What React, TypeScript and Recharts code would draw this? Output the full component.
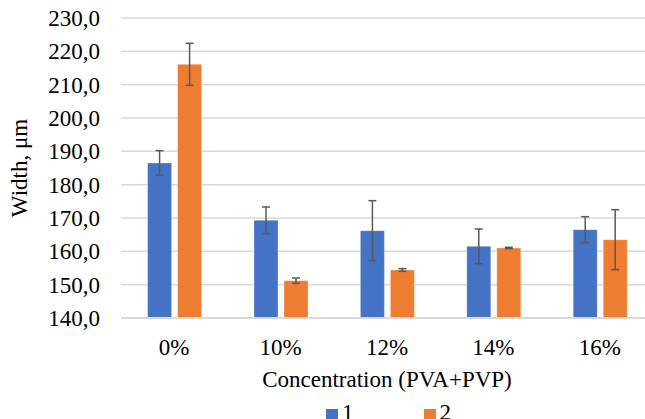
import React from "react";
import { BarChart, Bar, XAxis, YAxis, CartesianGrid, Legend, ErrorBar } from "recharts";

const categories = ["0%", "10%", "12%", "14%", "16%"];
const series1 = [186.5, 169.3, 166.2, 161.5, 166.5];
const series2 = [216.1, 151.2, 154.4, 161.0, 163.5];
const err1 = [3.7, 4.0, 9.0, 5.2, 3.9];
const err2 = [6.3, 0.8, 0.4, 0.2, 9.0];
const yTicks = [140, 150, 160, 170, 180, 190, 200, 210, 220, 230];

const data = categories.map((c, i) => ({
  name: c,
  s1: series1[i],
  s2: series2[i],
  e1: err1[i],
  e2: err2[i],
}));

const font = '"Liberation Serif", "Times New Roman", serif';
const fmt = (v: number) => v.toFixed(1).replace(".", ",");

export default function App() {
  return (
    <div style={{ position: "fixed", left: 0, top: 0, width: 645, height: 419, overflow: "hidden", background: "#fff", fontFamily: font }}>
      <style>{`svg text, svg tspan { font-family: "Liberation Serif", "Times New Roman", serif; }`}</style>
      <BarChart
        width={661}
        height={440}
        data={data}
        margin={{ top: 18, right: 8, left: 0, bottom: 48 }}
        barCategoryGap="25%"
        barGap={6}
      >
        <CartesianGrid vertical={false} stroke="#d9d9d9" strokeWidth={1.5} />
        <XAxis
          dataKey="name"
          height={74}
          tickLine={false}
          tickSize={0}
          tickMargin={21}
          axisLine={{ stroke: "#d9d9d9", strokeWidth: 2 }}
          tick={{ fill: "#000", fontSize: 23, fontFamily: font }}
          label={{ value: "Concentration (PVA+PVP)", position: "insideBottom", offset: 5, fill: "#000", fontSize: 23, fontFamily: font }}
        />
        <YAxis
          width={121}
          domain={[140, 230]}
          ticks={yTicks}
          interval={0}
          axisLine={false}
          tickLine={false}
          tickSize={0}
          tickMargin={21}
          tickFormatter={fmt}
          tick={{ fill: "#000", fontSize: 23, fontFamily: font }}
          label={{ value: "Width, μm", angle: -90, position: "insideLeft", offset: 19, fill: "#000", fontSize: 23, fontFamily: font, style: { textAnchor: "middle" } }}
        />
        <Legend
          verticalAlign="middle"
          align="center"
          layout="horizontal"
          iconType="square"
          iconSize={12}
          wrapperStyle={{ top: 400, left: 326, width: "auto", fontSize: 23, fontFamily: font }}
          formatter={(v: string) => (
            <span style={{ color: "#000", paddingRight: v === "1" ? 60 : 0 }}>{v}</span>
          )}
        />
        <Bar dataKey="s1" name="1" fill="#4472c4" stroke="#fff" strokeOpacity={0.3} strokeWidth={1} isAnimationActive={false}>
          <ErrorBar dataKey="e1" width={4} stroke="#595959" strokeWidth={1.5} />
        </Bar>
        <Bar dataKey="s2" name="2" fill="#ed7d31" stroke="#fff" strokeOpacity={0.3} strokeWidth={1} isAnimationActive={false}>
          <ErrorBar dataKey="e2" width={4} stroke="#595959" strokeWidth={1.5} />
        </Bar>
      </BarChart>
    </div>
  );
}
